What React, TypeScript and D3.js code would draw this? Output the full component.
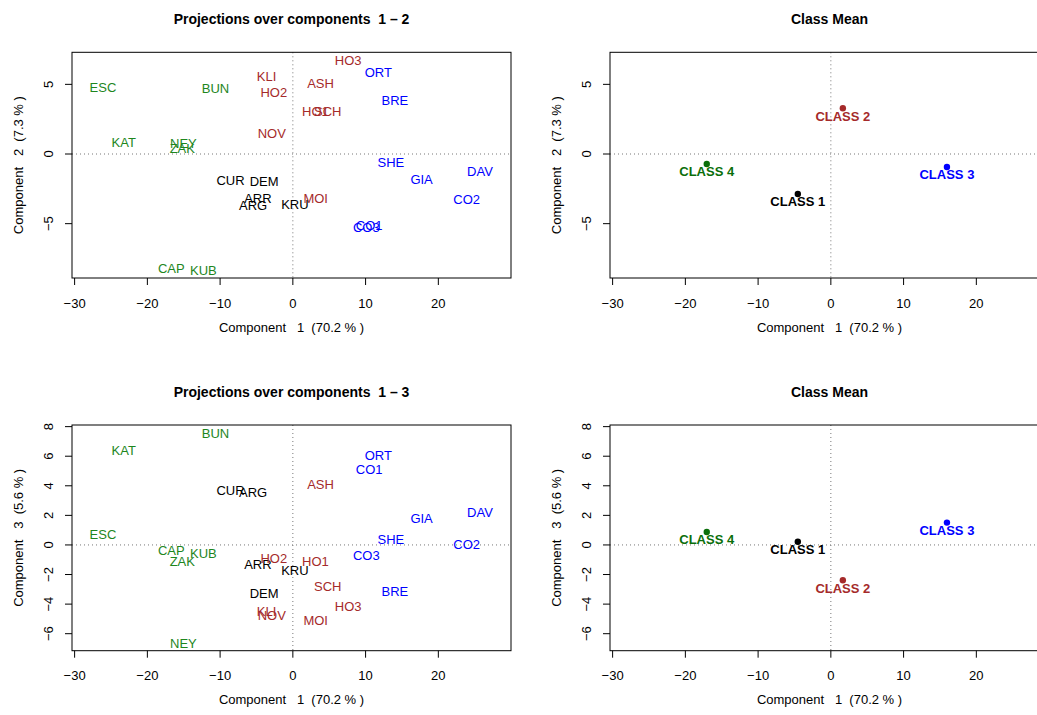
import React from "react";
import * as d3 from "d3";

// ---- data ----
const sites = ["CUR","DEM","ARR","ARG","KRU","KLI","HO2","NOV","HO3","ASH","HO1","SCH","MOI","ORT","BRE","SHE","GIA","DAV","CO2","CO1","CO3","ESC","BUN","KAT","NEY","ZAK","CAP","KUB"];
const siteClass = [1,1,1,1,1,2,2,2,2,2,2,2,2,3,3,3,3,3,3,3,3,4,4,4,4,4,4,4];
const comp1 = [-8.57,-3.94,-4.81,-5.46,0.28,-3.62,-2.61,-2.89,7.61,3.81,3.1,4.8,3.14,11.74,14.03,13.48,17.7,25.72,23.9,10.5,10.1,-26.1,-10.63,-23.25,-15.05,-15.2,-16.7,-12.3];
const comp2 = [-1.87,-1.96,-3.21,-3.69,-3.59,5.6,4.4,1.49,6.7,5.07,3.04,3.04,-3.18,5.86,3.88,-0.6,-1.8,-1.22,-3.25,-5.1,-5.27,4.79,4.72,0.86,0.77,0.41,-8.21,-8.33];
const comp3 = [3.67,-3.27,-1.31,3.56,-1.69,-4.46,-0.9,-4.73,-4.17,4.12,-1.13,-2.77,-5.12,6.09,-3.16,0.41,1.8,2.21,0.07,5.12,-0.7,0.72,7.55,6.38,-6.65,-1.13,-0.38,-0.56];

const classNames = ["CLASS 1","CLASS 2","CLASS 3","CLASS 4"];
const classIds = [1,2,3,4];
const meanComp1 = [-4.54,1.65,15.96,-17.06];
const meanComp2 = [-2.87,3.28,-0.93,-0.72];
const meanComp3 = [0.22,-2.39,1.51,0.88];

const xTicks = [-30,-20,-10,0,10,20];
const yTicks12 = [-5,0,5];
const yTicks13 = [-6,-4,-2,0,2,4,6,8];
const xDomain = [-30.36, 29.99];
const yDomain12 = [-8.9, 7.3];
const yDomain13 = [-7.15, 8.11];

const labelColors: Record<number,string> = {1:"#000000",2:"#A52A2A",3:"#0000FF",4:"#1E861E"};
const meanColors: Record<number,string> = {1:"#000000",2:"#A52A2A",3:"#0000FF",4:"#0A6E0A"};
const FONT = "'Liberation Sans', Arial, Helvetica, sans-serif";
const fmt = d3.format("d");

type PanelProps = {
  left: number; top: number; width: number; height: number;
  title: string; xLabel: string; yLabel: string;
  yDomain: number[]; yTicks: number[];
  xs: number[]; ys: number[]; labels: string[]; cls: number[];
  means: boolean;
};

function Panel(p: PanelProps) {
  const x = d3.scaleLinear().domain(xDomain).range([p.left, p.left + p.width]);
  const y = d3.scaleLinear().domain(p.yDomain).range([p.top + p.height, p.top]);
  const bottom = p.top + p.height;
  const cx = p.left + p.width / 2;
  const cy = p.top + p.height / 2;
  return (
    <g fontFamily={FONT}>
      <text x={cx} y={p.top - 28} textAnchor="middle" fontWeight="bold" fontSize={14} style={{ whiteSpace: "pre" }}>{p.title}</text>
      {/* reference lines */}
      <line x1={x(0)} x2={x(0)} y1={p.top} y2={bottom} stroke="#777" strokeDasharray="1,3" />
      <line x1={p.left} x2={p.left + p.width} y1={y(0)} y2={y(0)} stroke="#777" strokeDasharray="1,3" />
      {/* points / labels */}
      {p.xs.map((v, i) => p.means ? (
        <g key={i}>
          <circle cx={x(v)} cy={y(p.ys[i])} r={3.2} fill={meanColors[p.cls[i]]} />
          <text x={x(v)} y={y(p.ys[i]) + 7.7} dy="0.36em" textAnchor="middle" fontWeight="bold" fontSize={13} fill={meanColors[p.cls[i]]}>{p.labels[i]}</text>
        </g>
      ) : (
        <text key={i} x={x(v)} y={y(p.ys[i])} dy="0.36em" textAnchor="middle" fontSize={13} fill={labelColors[p.cls[i]]}>{p.labels[i]}</text>
      ))}
      {/* box */}
      <rect x={p.left} y={p.top} width={p.width} height={p.height} fill="none" stroke="#000" strokeWidth={1} />
      {/* x axis */}
      {xTicks.map(t => (
        <g key={"x" + t}>
          <line x1={x(t)} x2={x(t)} y1={bottom} y2={bottom + 7} stroke="#000" />
          <text x={x(t)} y={bottom + 25} dy="0.36em" textAnchor="middle" fontSize={13}>{fmt(t)}</text>
        </g>
      ))}
      {/* y axis */}
      {p.yTicks.map(t => (
        <g key={"y" + t}>
          <line x1={p.left - 7} x2={p.left} y1={y(t)} y2={y(t)} stroke="#000" />
          <text transform={`translate(${p.left - 24},${y(t)}) rotate(-90)`} dy="0.36em" textAnchor="middle" fontSize={13}>{fmt(t)}</text>
        </g>
      ))}
      <text x={cx} y={bottom + 49} dy="0.36em" textAnchor="middle" fontSize={13} style={{ whiteSpace: "pre" }}>{p.xLabel}</text>
      <text transform={`translate(${p.left - 54},${cy}) rotate(-90)`} dy="0.36em" textAnchor="middle" fontSize={13} style={{ whiteSpace: "pre" }}>{p.yLabel}</text>
    </g>
  );
}

export default function App() {
  const xLab = "Component   1  (70.2 % )";
  const yLab2 = "Component   2  (7.3 % )";
  const yLab3 = "Component   3  (5.6 % )";
  const W = 439, H1 = 225.7, H2 = 225.7;
  return (
    <svg width={1037} height={715} style={{ position: "absolute", left: 0, top: 0, background: "#fff" }}>
      <rect width={1037} height={715} fill="#fff" />
      <Panel left={72} top={52.3} width={W} height={H1} title="Projections over components  1 – 2"
        xLabel={xLab} yLabel={yLab2} yDomain={yDomain12} yTicks={yTicks12}
        xs={comp1} ys={comp2} labels={sites} cls={siteClass} means={false} />
      <Panel left={610} top={52.3} width={W} height={H1} title="Class Mean"
        xLabel={xLab} yLabel={yLab2} yDomain={yDomain12} yTicks={yTicks12}
        xs={meanComp1} ys={meanComp2} labels={classNames} cls={classIds} means={true} />
      <Panel left={72} top={425} width={W} height={H2} title="Projections over components  1 – 3"
        xLabel={xLab} yLabel={yLab3} yDomain={yDomain13} yTicks={yTicks13}
        xs={comp1} ys={comp3} labels={sites} cls={siteClass} means={false} />
      <Panel left={610} top={425} width={W} height={H2} title="Class Mean"
        xLabel={xLab} yLabel={yLab3} yDomain={yDomain13} yTicks={yTicks13}
        xs={meanComp1} ys={meanComp3} labels={classNames} cls={classIds} means={true} />
    </svg>
  );
}
